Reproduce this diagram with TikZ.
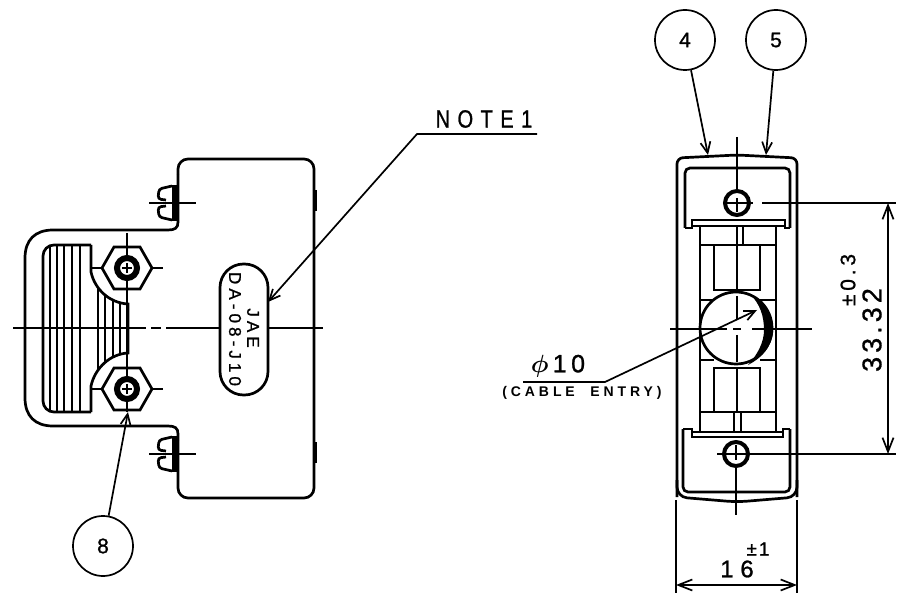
\documentclass[tikz,border=0pt]{standalone}
\usepackage{amsmath}
\usepackage{fontspec}
\usetikzlibrary{arrows.meta}
\setmainfont{Liberation Sans}
\newfontfamily\dwgfont[FakeBold=1]{Liberation Sans}
\newfontfamily\notefont[FakeBold=1,FakeStretch=0.8,LetterSpace=30]{Liberation Sans}
\tikzset{
  outline/.style={line width=2.7pt},
  thinline/.style={line width=1.5pt},
  hatchline/.style={line width=2pt},
  leader/.style={line width=1.7pt,-{Straight Barb[length=11pt,width=10pt,line width=1.7pt]}},
  dimline/.style={line width=1.7pt,{Straight Barb[length=14pt,width=11pt,line width=1.7pt]}-{Straight Barb[length=14pt,width=11pt,line width=1.7pt]}},
  balloon/.style={circle,draw,line width=1.7pt,minimum size=60pt,inner sep=0pt,font=\dwgfont\fontsize{21}{21}\selectfont},
  dimtext/.style={inner sep=0pt,font=\dwgfont\fontsize{27}{27}\selectfont\addfontfeature{LetterSpace=15}},
}
\begin{document}
\begin{tikzpicture}[x=1pt,y=-1pt]
    \useasboundingbox (0,0) rectangle (902,601);

    % side view
    \draw[outline,rounded corners=10pt] (178,175) -- (178,159) -- (314,159) -- (314,498) -- (178,498) -- (178,440);
    \draw[outline] (178,175) -- (178,222) .. controls (178,228) and (175,230) .. (168,230) -- (53,230)
        .. controls (35,230) and (25,240) .. (25,258) -- (25,398)
        .. controls (25,416) and (35,426) .. (53,426) -- (168,426)
        .. controls (175,426) and (178,428) .. (178,434) -- (178,440);
    \foreach \y in {190,442} \draw[line width=3.5pt] (315,\y) -- (315,\y+21);

    % hood
    \draw[outline,rounded corners=11pt] (91,245) -- (43,245) -- (43,412) -- (91,412);
    \draw[outline] (91,245) -- (91,272) .. controls (95,290) and (110,303) .. (128,304) -- (128,353)
        .. controls (110,354) and (95,368) .. (91,386) -- (91,412);
    \begin{scope}
        \clip (43,245) -- (91,245) -- (91,272) .. controls (95,290) and (110,303) .. (128,304) -- (128,353)
            .. controls (110,354) and (95,368) .. (91,386) -- (91,412) -- (43,412) -- cycle;
        \foreach \x in {50,57,64,72,80,98,105,113,120} \draw[hatchline] (\x,240) -- (\x,416);
    \end{scope}

    % nuts
    \foreach \y in {268,389} {
        \draw[outline,fill=white] (102,\y) -- (114,\y-21) -- (140,\y-21) -- (152,\y) -- (140,\y+21) -- (114,\y+21) -- cycle;
        \draw[line width=6pt] (127,\y) circle[radius=10pt];
        \draw[thinline] (92,\y) -- (103,\y) (151,\y) -- (163,\y) (122,\y) -- (132,\y) (127,\y-5) -- (127,\y+5);
    }
    \draw[thinline] (127,233) -- (127,258) (127,278) -- (127,379) (127,399) -- (127,412);

    % flange screws
    \foreach \y in {203,454} {
        \draw[outline,rounded corners=3pt] (172,\y-17) -- (159,\y-14) -- (158,\y-4) -- (166,\y-3);
        \draw[outline,rounded corners=3pt] (172,\y+17) -- (159,\y+14) -- (158,\y+4) -- (166,\y+3);
        \draw[line width=4.5pt] (174.5,\y-18) -- (174.5,\y+18);
        \draw[thinline] (149,\y) -- (196,\y);
    }

    % centre line and label
    \draw[thinline] (13,328) -- (146,328) (151,328) -- (161,328) (166,328) -- (220,328) (268,328) -- (323,328);
    \draw[outline,rounded corners=23.5pt,fill=white] (220,264) rectangle (268,395);
    \node[rotate=-90,inner sep=0pt,font=\dwgfont\fontsize{17}{17}\selectfont\addfontfeature{LetterSpace=24}] (jae) at (253,328) {JAE};
    \node[rotate=-90,inner sep=0pt,font=\dwgfont\fontsize{17}{17}\selectfont\addfontfeature{LetterSpace=24}] (partno) at (235,329) {DA-08-J10};

    % end view
    \draw[outline,rounded corners=6pt] (677,497) -- (677,158) -- (737,155) -- (797,158) -- (797,497);
    \draw[outline,rounded corners=10pt] (677,480) -- (677,497) -- (737,502) -- (797,497) -- (797,480);
    \draw[outline,rounded corners=5pt] (685,228) -- (685,168) -- (790,168) -- (790,228);
    \draw[outline] (685,228) -- (692,228) -- (692,220) -- (785,220) -- (785,228) -- (790,228);
    \draw[thinline] (692,226) -- (785,226);
    \draw[outline,rounded corners=5pt] (683,429) -- (683,492) -- (790,492) -- (790,429);
    \draw[outline] (683,429) -- (692,429) -- (692,437) -- (783,437) -- (783,429) -- (790,429);
    \draw[thinline] (692,432) -- (783,432);
    \draw[outline] (700,226) -- (700,432) (776,226) -- (776,432);
    \draw[outline] (700,245) -- (776,245) (700,412) -- (776,412);
    \draw[outline] (714,245) -- (714,290) -- (760,290) -- (760,245);
    \draw[outline] (714,412) -- (714,368) -- (760,368) -- (760,412);
    \draw[outline] (700,300) -- (714,300) (760,300) -- (776,300) (700,360) -- (714,360) (760,360) -- (776,360);
    \draw[outline] (737,245) -- (737,290) (737,368) -- (737,412);
    \draw[thinline] (737,226) -- (737,245) (743,226) -- (743,245) (734,412) -- (734,432) (741,412) -- (741,432);

    % cable entry
    \draw[outline,fill=white] (736,328) circle[radius=36pt];
    \fill (750,294) .. controls (766,304) and (774,318) .. (773,332) .. controls (772,346) and (762,358) .. (748,365)
        .. controls (758,354) and (764,342) .. (764,330) .. controls (764,316) and (760,304) .. (750,294) -- cycle;

    % screws on end view
    \draw[line width=4pt,fill=white] (737,203) circle[radius=12pt];
    \draw[line width=4pt,fill=white] (736,454) circle[radius=12pt];
    \draw[thinline] (723,203) -- (753,203) (717,454) -- (750,454);

    % centre lines
    \draw[thinline] (737,137) -- (737,192) (737,198) -- (737,212) (737,296) -- (737,320) (737,335) -- (737,362);
    \draw[thinline] (736,445) -- (736,460) (736,468) -- (736,515);
    \draw[thinline] (670,329) -- (727,329) (733,329) -- (741,329) (752,329) -- (812,329);

    % dimensions
    \draw[thinline] (762,203) -- (896,203) (750,454) -- (896,454);
    \draw[thinline] (676,500) -- (676,593) (797,500) -- (797,593);
    \coordinate (dimtop) at (888,203);
    \coordinate (dimbot) at (888,454);
    \coordinate (dimleft) at (676,585);
    \coordinate (dimright) at (797,585);
    \draw[dimline] (dimtop) -- (dimbot);
    \draw[dimline] (dimleft) -- (dimright);
    \node[dimtext,rotate=90] (height) at (872,330) {33.32};
    \node[dimtext,rotate=90,font=\dwgfont\fontsize{21}{21}\selectfont\addfontfeature{LetterSpace=18}] (heighttol) at (848,280) {±0.3};
    \node[dimtext,font=\dwgfont\fontsize{24}{24}\selectfont\addfontfeature{LetterSpace=28}] (width) at (737,569) {16};
    \node[dimtext,font=\dwgfont\fontsize{19}{19}\selectfont\addfontfeature{LetterSpace=10}] (widthtol) at (758,549) {±1};

    % leaders
    \node[balloon] (item4) at (685,40) {4};
    \node[balloon] (item5) at (776,40) {5};
    \node[balloon] (item8) at (103,546) {8};
    \coordinate (tip4) at (708,155);
    \coordinate (tip5) at (766,155);
    \coordinate (tip8) at (128,412);
    \draw[leader] (item4) -- (tip4);
    \draw[leader] (item5) -- (tip5);
    \draw[leader] (item8) -- (tip8);

    \node[inner sep=0pt,font=\notefont\fontsize{25}{25}\selectfont] (note) at (484,119) {NOTE1};
    \coordinate (noteend) at (537,134);
    \coordinate (notebend) at (417,134);
    \coordinate (notetip) at (268,302);
    \draw[leader] (noteend) -- (notebend) -- (notetip);

    \node[dimtext,font=\dwgfont\fontsize{25}{25}\selectfont\addfontfeature{LetterSpace=18}] (dia) at (558,366) {$\boldsymbol{\phi}$\,10};
    \node[inner sep=0pt,font=\fontsize{14}{14}\selectfont\bfseries\addfontfeature{LetterSpace=28}] (cable) at (582,393) {(CABLE\ \ ENTRY)};
    \coordinate (diaend) at (523,382);
    \coordinate (diabend) at (605,382);
    \coordinate (diatip) at (757,310);
    \draw[leader] (diaend) -- (diabend) -- (diatip);

\end{tikzpicture}
\end{document}
